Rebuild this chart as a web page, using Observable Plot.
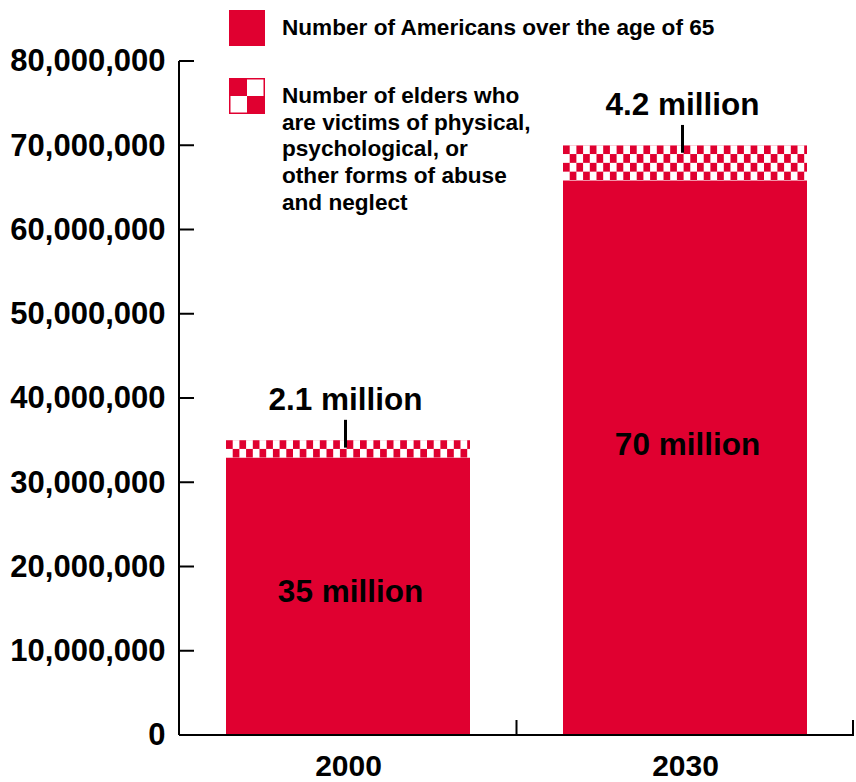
<!DOCTYPE html>
<html>
<head>
<meta charset="utf-8">
<script src="https://cdn.jsdelivr.net/npm/d3@7"></script>
<script src="https://cdn.jsdelivr.net/npm/@observablehq/plot@0.6"></script>
<style>
  html, body { margin: 0; padding: 0; background: #ffffff; }
  body { font-family: "Liberation Sans", Arial, Helvetica, sans-serif; }
  #wrap { position: relative; width: 856px; height: 782px; }
  .legend-swatch { position: absolute; left: 229px; width: 36px; height: 36px; }
  .legend-text { position: absolute; left: 282px; font-weight: bold; font-size: 22.6px; line-height: 26.7px; color: #000; white-space: nowrap; }
</style>
</head>
<body>
<div id="wrap"></div>
<script>
// ---- data ----
const years = ["2000", "2030"];
const seniors = [35000000, 70000000];          // Americans over 65
const abused = [2100000, 4200000];             // elders who are victims of abuse
const seniorLabels = ["35 million", "70 million"];
const abusedLabels = ["2.1 million", "4.2 million"];
const yTicks = [0, 10000000, 20000000, 30000000, 40000000, 50000000, 60000000, 70000000, 80000000];
const legendSeniors = ["Number of Americans over the age of 65"];
const legendAbused = ["Number of elders who", "are victims of physical,", "psychological, or", "other forms of abuse", "and neglect"];

const RED = "#E00030";

const data = years.map((year, i) => ({
  year,
  total: seniors[i],
  abused: abused[i],
  base: seniors[i] - abused[i],
  totalLabel: seniorLabels[i],
  abusedLabel: abusedLabels[i]
}));

// custom mark: checker patterns + axis frame lines and inward ticks
function frameMark(index, scales, values, dims) {
  const {x, y} = scales;
  const bw = typeof x.bandwidth === "function" ? x.bandwidth() : x.bandwidth;
  const g = d3.create("svg:g");
  const defs = g.append("defs");
  const cw = 6.7, rh = 8.8;
  data.forEach(d => {
    const p = defs.append("pattern")
      .attr("id", `chk-${d.year}`)
      .attr("patternUnits", "userSpaceOnUse")
      .attr("x", x(d.year))
      .attr("y", y(d.total))
      .attr("width", 2 * cw)
      .attr("height", 2 * rh);
    p.append("rect").attr("width", 2 * cw).attr("height", 2 * rh).attr("fill", RED);
    p.append("rect").attr("x", cw).attr("y", 0).attr("width", cw).attr("height", rh).attr("fill", "#fff");
    p.append("rect").attr("x", 0).attr("y", rh).attr("width", cw).attr("height", rh).attr("fill", "#fff");
  });
  const left = dims.marginLeft;
  const right = dims.width - dims.marginRight;
  const y0 = y(0);
  const lines = g.append("g").attr("stroke", "#000").attr("stroke-width", 2).attr("fill", "none");
  lines.append("line").attr("x1", left).attr("x2", left).attr("y1", y(d3.max(yTicks))).attr("y2", y0);
  lines.append("line").attr("x1", left).attr("x2", right).attr("y1", y0).attr("y2", y0);
  yTicks.forEach(v => {
    lines.append("line").attr("x1", left).attr("x2", left + 15).attr("y1", y(v)).attr("y2", y(v));
  });
  const mid = (x(years[0]) + bw + x(years[1])) / 2;
  [mid, right - 1].forEach(bx => {
    lines.append("line").attr("x1", bx).attr("x2", bx).attr("y1", y0).attr("y2", y0 - 15);
  });
  return g.node();
}

const chart = Plot.plot({
  width: 856,
  height: 782,
  marginLeft: 179,
  marginRight: 2,
  marginTop: 61,
  marginBottom: 47,
  style: {
    fontFamily: '"Liberation Sans", Arial, Helvetica, sans-serif',
    fontWeight: "bold",
    fontSize: "30px",
    color: "#000",
    background: "transparent"
  },
  x: {domain: years, paddingInner: 0.2756, paddingOuter: 0.1378},
  y: {domain: [0, 80000000]},
  color: {type: "identity"},
  marks: [
    Plot.barY(data, {x: "year", y1: 0, y2: "base", fill: RED}),
    Plot.barY(data, {x: "year", y1: "base", y2: "total", fill: d => `url(#chk-${d.year})`}),
    frameMark,
    Plot.ruleX(data, {x: "year", y1: d => d.total + 3300000, y2: "total", dy: 7.5, dx: -3, stroke: "#000", strokeWidth: 3}),
    Plot.text(data, {x: "year", y: "total", text: "abusedLabel", dy: -41, dx: -3, fontSize: 31.5, fontWeight: "bold", fill: "#000"}),
    Plot.text(data, {x: "year", y: d => d.total / 2, text: "totalLabel", dx: 2, dy: 4, fontSize: 31.5, fontWeight: "bold", fill: "#000"}),
    Plot.axisY(yTicks, {tickSize: 0, tickPadding: 14, tickFormat: d3.format(","), fontSize: 31, fontWeight: "bold", label: null}),
    Plot.axisX({tickSize: 0, tickPadding: 19, fontSize: 30, fontWeight: "bold", label: null})
  ]
});

const wrap = document.getElementById("wrap");
wrap.appendChild(chart);

// legend (overlaid on the plot area, top)
const sw1 = document.createElement("div");
sw1.className = "legend-swatch";
sw1.style.top = "10px";
sw1.style.background = RED;
wrap.appendChild(sw1);

const t1 = document.createElement("div");
t1.className = "legend-text";
t1.style.top = "15px";
t1.textContent = legendSeniors[0];
wrap.appendChild(t1);

const sw2 = document.createElementNS("http://www.w3.org/2000/svg", "svg");
sw2.setAttribute("class", "legend-swatch");
sw2.setAttribute("width", 36);
sw2.setAttribute("height", 36);
sw2.style.top = "78px";
sw2.innerHTML = `<rect x="0" y="0" width="36" height="36" fill="${RED}"/>
  <rect x="18" y="1.5" width="16.5" height="16.5" fill="#fff"/>
  <rect x="1.5" y="18" width="16.5" height="16.5" fill="#fff"/>`;
wrap.appendChild(sw2);

const t2 = document.createElement("div");
t2.className = "legend-text";
t2.style.top = "83px";
t2.innerHTML = legendAbused.map(s => `<div>${s}</div>`).join("");
wrap.appendChild(t2);
</script>
</body>
</html>
